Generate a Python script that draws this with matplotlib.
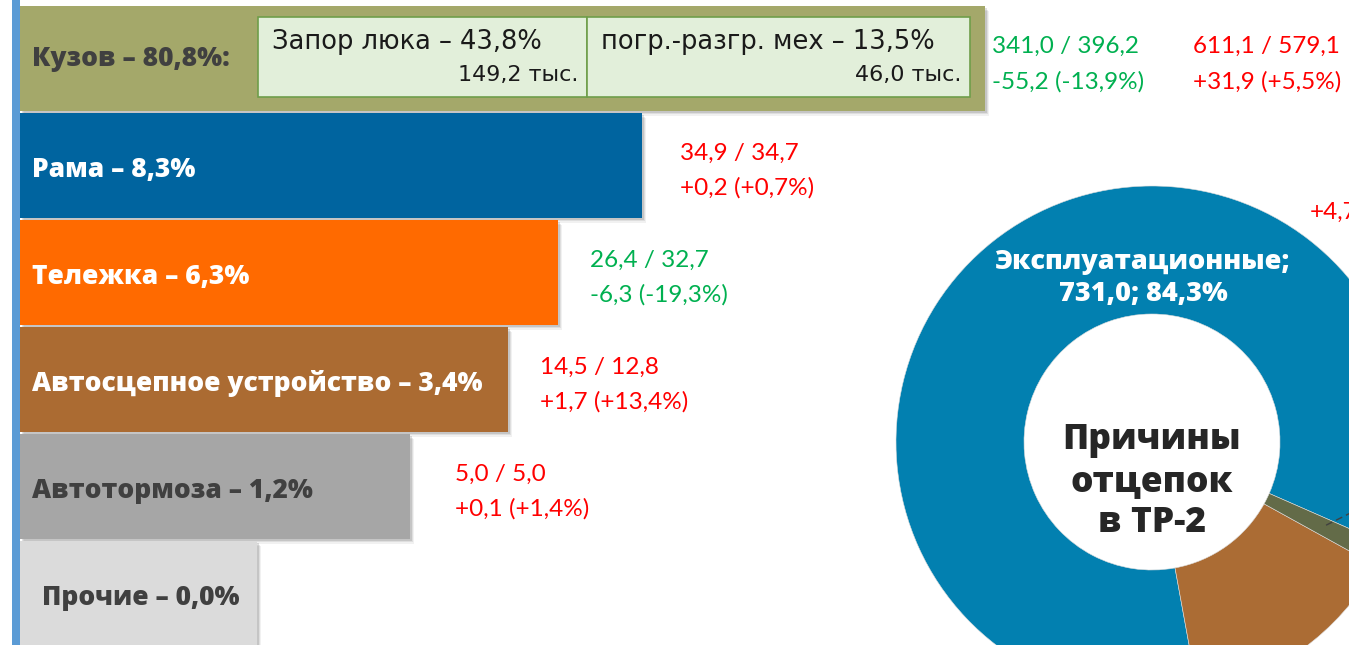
import matplotlib
matplotlib.use("Agg")
import matplotlib.pyplot as plt
from matplotlib.patches import Rectangle

# ---------------- data ----------------
categories = ['Кузов', 'Рама', 'Тележка', 'Автосцепное устройство', 'Автотормоза', 'Прочие']
shares = [80.8, 8.3, 6.3, 3.4, 1.2, 0.0]
bar_len = [965, 622, 538, 488, 390, 237]          # displayed bar lengths (decorative scale)
cur_vals = [34.9, 26.4, 14.5, 5.0]                 # Рама .. Автотормоза
prev_vals = [34.7, 32.7, 12.8, 5.0]
diff_vals = [0.2, -6.3, 1.7, 0.1]
diff_pcts = [0.7, -19.3, 13.4, 1.4]

sub_names = ['Запор люка', 'погр.-разгр. мех']
sub_shares = [43.8, 13.5]
sub_counts = [149.2, 46.0]
kuz_cur = [341.0, 611.1]
kuz_prev = [396.2, 579.1]
kuz_diff = [-55.2, 31.9]
kuz_pct = [-13.9, 5.5]

pie_labels = ['Эксплуатационные', 'Технологические', 'Прочие']
pie_values = [731.0, 122.0, 12.5]
pie_pct_main = 84.3

# ---------------- styles ----------------
bar_colors = ['#A4A86A', '#00649F', '#FF6A00', '#AB6B32', '#A6A6A6', '#DBDBDB']
label_colors = ['#404040', 'white', 'white', 'white', '#404040', '#404040']
pie_colors = ['#0280B0', '#AB6C34', '#636B48']
GREEN = '#00B050'
RED = '#FF0000'
BOLD = ['Open Sans', 'DejaVu Sans']
REG = ['Lato', 'DejaVu Sans']
BOX = ['DejaVu Sans']


def fmt(v, sign=False):
    s = f"{v:+.1f}" if sign else f"{v:.1f}"
    return s.replace('.', ',')


W, H = 1349, 645
fig = plt.figure(figsize=(W / 100, H / 100), dpi=100)
fig.patch.set_facecolor('white')

# ---------------- donut ----------------
cx, cy, R = 1152, 442, 256
pax = fig.add_axes([(cx - R) / W, (H - cy - R) / H, 2 * R / W, 2 * R / H])
pax.pie(pie_values, colors=pie_colors, startangle=-23.7, counterclock=True,
        radius=1.0, wedgeprops=dict(width=0.5, edgecolor='#dddddd', linewidth=0.4))
pax.set_xlim(-1, 1)
pax.set_ylim(-1, 1)
pax.set_aspect('equal')
pax.axis('off')
pax.text(-0.035, 0.64, f"{pie_labels[0]};\n{fmt(pie_values[0])}; {fmt(pie_pct_main)}%",
         ha='center', va='center', color='white', fontsize=19.5, fontweight=800,
         family=BOLD, linespacing=1.27)
pax.text(0.0, -0.155, "Причины\nотцепок\nв ТР-2", ha='center', va='center',
         color='#262626', fontsize=25.5, fontweight=800, family=BOLD, linespacing=1.21)
pax.plot([0.68, 0.80], [-0.325, -0.265], color='#404040', lw=1.0, ls=(0, (5, 3)),
         clip_on=False)

# ---------------- bars ----------------
ax = fig.add_axes([20 / W, 0, (W - 20) / W, 1])
ax.set_xlim(0, W - 20)
ax.set_ylim(5.481, -0.547)
ax.axis('off')

y = list(range(len(categories)))
# soft drop shadows
for d, a in [(5, 0.08), (3.5, 0.12), (2, 0.18)]:
    ax.barh([i + d / 107 for i in y], bar_len, height=0.98, left=d * 0.8,
            color='#555555', alpha=a, zorder=1, linewidth=0)
ax.barh(y, bar_len, height=0.98, color=bar_colors, zorder=2)

for i, (c, s) in enumerate(zip(categories, shares)):
    txt = f"{c} – {fmt(s)}%" + (":" if i == 0 else "")
    xoff = 22 if i == len(categories) - 1 else 12
    dy = 0.0 if i == 0 else 0.04
    ax.text(xoff, i + dy, txt, ha='left', va='center', color=label_colors[i],
            fontsize=19, fontweight=800, family=BOLD, zorder=5)

# sub boxes inside Кузов
box_edges = [238, 567, 950]
for k in range(2):
    x0, x1 = box_edges[k], box_edges[k + 1]
    ax.add_patch(Rectangle((x0, -0.388), x1 - x0, 0.748, facecolor='#E2EFDA',
                           edgecolor='#6F9E4A', lw=1.2, zorder=3))
    ax.text(x0 + 14, -0.15, f"{sub_names[k]} – {fmt(sub_shares[k])}%", ha='left',
            va='center', fontsize=18.5, color='#1a1a1a', family=BOX, zorder=5)
    ax.text(x1 - 9, 0.15, f"{fmt(sub_counts[k])} тыс.", ha='right',
            va='center', fontsize=16, color='#1a1a1a', family=BOX, zorder=5)

# Кузов comparisons
kx = [bar_len[0] + 7, bar_len[0] + 208]
for k in range(2):
    col = GREEN if kuz_diff[k] < 0 else RED
    ax.text(kx[k], -0.11, f"{fmt(kuz_cur[k])} / {fmt(kuz_prev[k])}", ha='left',
            va='center', fontsize=17.5, color=col, family=REG)
    ax.text(kx[k], 0.215, f"{fmt(kuz_diff[k], True)} ({fmt(kuz_pct[k], True)}%)",
            ha='left', va='center', fontsize=17.5, color=col, family=REG)

# other comparisons
offs = [38, 32, 32, 45]
for j in range(4):
    i = j + 1
    col = GREEN if diff_vals[j] < 0 else RED
    xx = bar_len[i] + offs[j]
    ax.text(xx, i - 0.11, f"{fmt(cur_vals[j])} / {fmt(prev_vals[j])}", ha='left',
            va='center', fontsize=17.5, color=col, family=REG)
    ax.text(xx, i + 0.21, f"{fmt(diff_vals[j], True)} ({fmt(diff_pcts[j], True)}%)",
            ha='left', va='center', fontsize=17.5, color=col, family=REG)

# label cut by the right edge in the original as well
fig.text(1310 / W, 1 - 212 / H, "+4,7", ha='left', va='center', fontsize=17.5,
         color=RED, family=REG)

# blue axis line at left
fig.patches.append(Rectangle((12 / W, 0), 8 / W, 1, transform=fig.transFigure,
                             facecolor='#5B9BD5', edgecolor='none', zorder=10))

fig.savefig('out.png', dpi=100)
